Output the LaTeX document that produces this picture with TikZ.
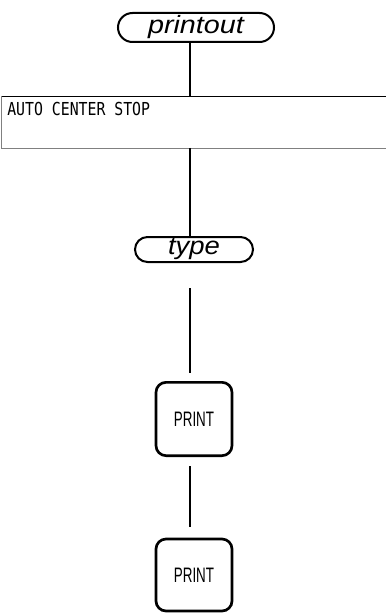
\documentclass[tikz,border=0pt]{standalone}
\usepackage{fontspec}
\usepackage{graphicx}
\usetikzlibrary{shapes.misc}
\newfontfamily\hvfont{Liberation Sans}
\newfontfamily\monofont{DejaVu Sans Mono}
\tikzset{
  pill/.style={rounded rectangle, draw, line width=1.5pt, inner sep=0pt,
    font=\hvfont\itshape\fontsize{18.75pt}{20pt}\selectfont},
  keybox/.style={rectangle, draw, line width=2pt, rounded corners=7.5pt,
    minimum width=57pt, minimum height=55pt, inner sep=0pt,
    font=\hvfont\fontsize{15.7pt}{17pt}\selectfont},
  conn/.style={line width=0.8pt},
  panel/.style={line width=0.7pt}
}
\begin{document}
\begin{tikzpicture}[x=0.75pt,y=-0.75pt]
\useasboundingbox (0,0) rectangle (386,613);
% printout pill
\node[pill, minimum width=117pt, minimum height=21.75pt] (p) at (196,27.5) {\scalebox{1.15}[1]{printout}};
% panel box
\node[draw=none, minimum width=288pt, minimum height=39pt, inner sep=0pt, anchor=north west] (box) at (1.5,96) {};
\draw[panel] (box.north west) -- (box.north east);
\draw[panel, gray] (box.south west) -- (box.south east);
\draw[line width=0.5pt, gray] (box.north west) -- (box.south west);
\node[anchor=west, inner sep=0pt, font=\monofont\fontsize{13.4pt}{15pt}\selectfont] (txt) at (7,109) {\scalebox{0.83}[1]{AUTO CENTER STOP}};
% type pill
\node[pill, minimum width=88.5pt, minimum height=18.75pt] (t) at (194,249.5) {\scalebox{1.1}[1]{type}};
% keys
\node[keybox] (k1) at (194,419) {\scalebox{0.64}[1]{PRINT}};
\node[keybox, minimum height=54pt] (k2) at (194,575) {\scalebox{0.64}[1]{PRINT}};
% connector coordinates
\coordinate (c1) at (190,96);
\coordinate (c2) at (190,148);
\coordinate (c3) at (190,288);
\coordinate (c4) at (190,373);
\coordinate (c5) at (190,466);
\coordinate (c6) at (190,527);
\draw[conn] (p.south -| c1) -- (c1);
\draw[conn] (c2) -- (t.north -| c2);
\draw[conn] (c3) -- (c4);
\draw[conn] (c5) -- (c6);
\end{tikzpicture}
\end{document}
